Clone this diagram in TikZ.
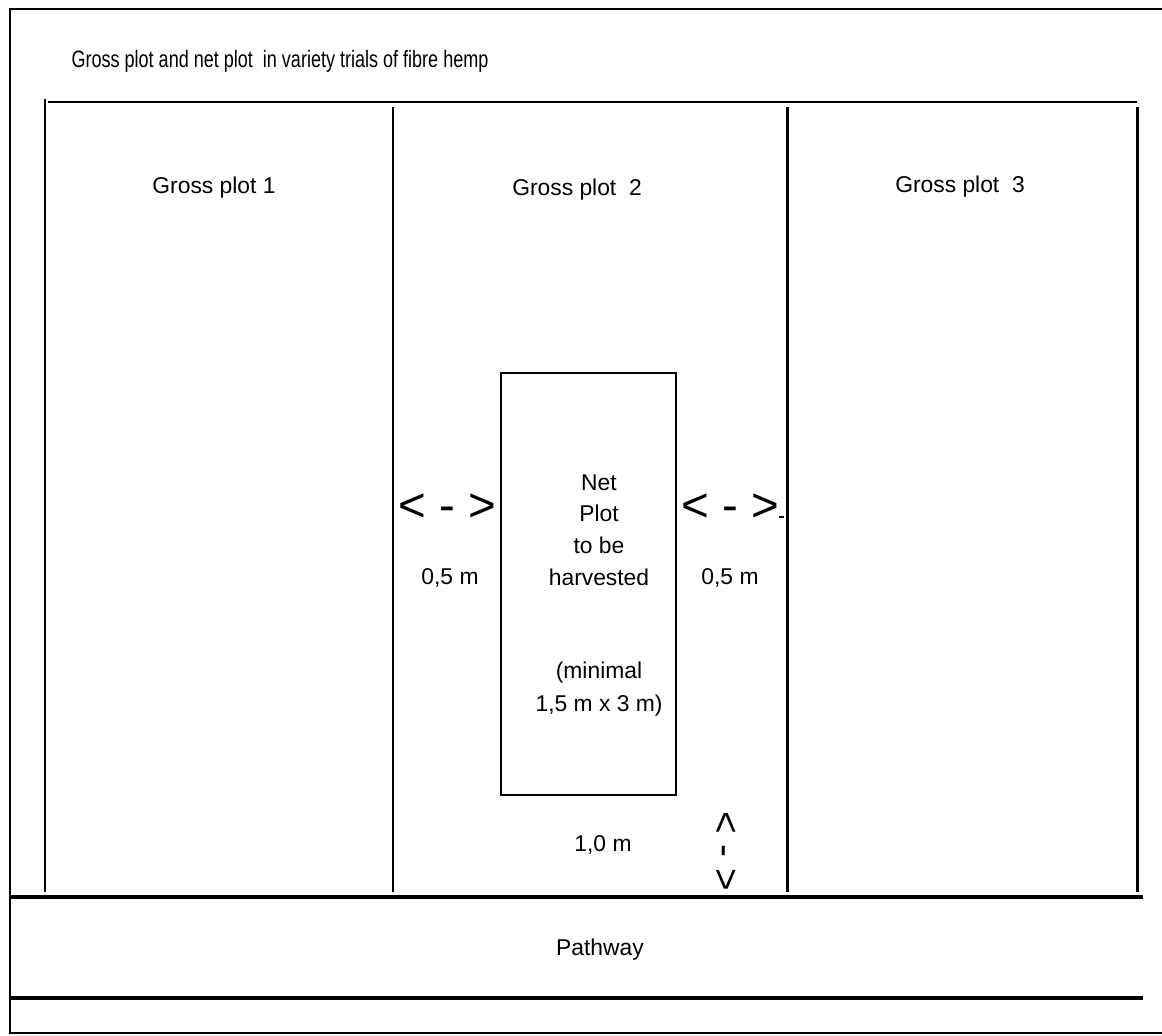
\documentclass[tikz,border=0pt]{standalone}
\usepackage{fontspec}
\setmainfont{Liberation Sans}
\usepackage{tikz}
\tikzset{>=latex}
\usetikzlibrary{calc,positioning}

\tikzset{
  lbl/.style={font=\fontsize{13}{15}\selectfont,inner sep=0pt},
  arr/.style={font=\fontsize{27}{30}\selectfont,inner sep=0pt},
  plotline/.style={line width=1.7pt},
  pathline/.style={line width=2.4pt}
}

\begin{document}
\begin{tikzpicture}[x=0.02cm,y=-0.02cm]
                \useasboundingbox (0,0) rectangle (1162,1035);
                \draw[line width=0.8pt] (1162,9) -- (10,9) -- (10,1033) -- (1162,1033);
                \node[lbl,font=\fontsize{13.5}{16}\selectfont] (title) at (280,61) {\scalebox{0.76}[1]{Gross plot and net plot\ \ in variety trials of fibre hemp}};
                \draw[line width=1.2pt] (48,102) -- (1137,102);
                \draw[plotline] (45,99) -- (45,892);
                \draw[plotline] (393,107) -- (393,892);
                \draw[plotline] (787,107) -- (787,892);
                \draw[plotline] (1137,107) -- (1137,892);
                \draw[pathline] (10,897) -- (1143,897);
                \draw[pathline] (10,998) -- (1143,998);
                \node[lbl] (g1) at (214,188) {Gross plot 1};
                \node[lbl] (g2) at (577,190) {Gross plot\ \ 2};
                \node[lbl] (g3) at (960,187) {Gross plot\ \ 3};
                \node[lbl] (path) at (600,950) {Pathway};
                \draw[line width=1.5pt] (501,795) -- (501,373) -- (676,373) -- (676,795) -- cycle;
                \node[lbl,align=center] (net) at (599,530) {Net\\[3pt]Plot\\[3pt]to be\\[3pt]harvested};
                \node[lbl,align=center] (min) at (599,689) {(minimal\\[4pt]1,5 m x 3 m)};
                \node[arr] (lft) at (447,508) {< - >};
                \node[arr] (rgt) at (730,508) {< - >};
                \draw[line width=0.6pt] (779,517) -- (784,517);
                \node[arr,font=\fontsize{22}{26}\selectfont,rotate=-90] (vrt) at (725,851) {< - >};
                \node[lbl] (dl) at (450,578) {0,5 m};
                \node[lbl] (dr) at (730,578) {0,5 m};
                \node[lbl] (db) at (603,845) {1,0 m};
\end{tikzpicture}
\end{document}
